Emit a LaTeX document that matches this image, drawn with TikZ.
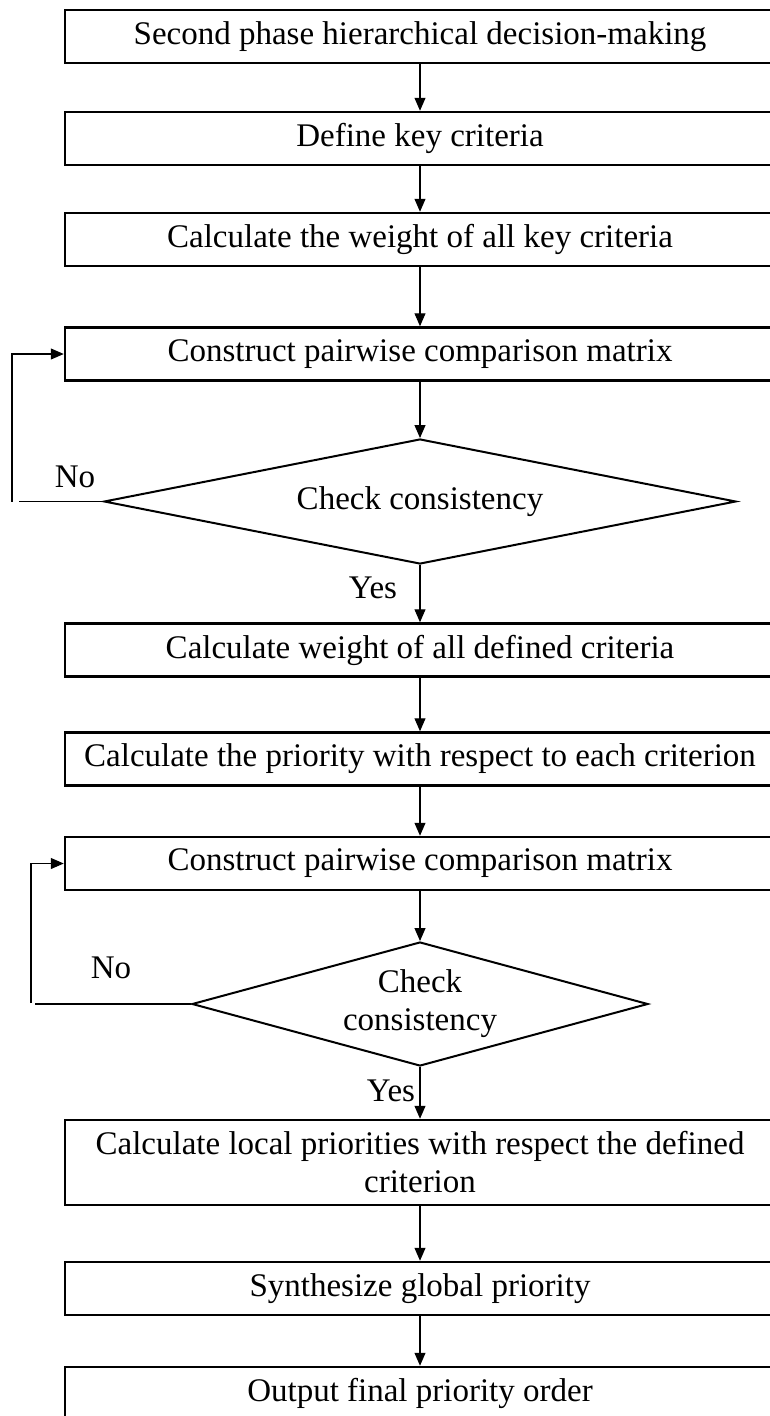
\documentclass[tikz,border=0pt]{standalone}
\usepackage{fontspec}
\setmainfont{Liberation Serif}
\usetikzlibrary{arrows.meta,shapes.geometric}

\begin{document}
\begin{tikzpicture}[x=1pt,y=-1pt,>={Triangle[length=13pt,width=11pt]},
  font=\fontsize{33}{38}\selectfont,
  stepbox/.style={draw,line width=2.5pt,minimum width=710pt,minimum height=53pt,inner sep=0pt,align=center},
  check/.style={draw,diamond,line width=2pt,inner sep=0pt,align=center},
  flow/.style={->,line width=1.1pt},
  back/.style={line width=1.1pt}]
  \useasboundingbox (0,0) rectangle (769,1416);

  % --- criteria weights ---
  \node[stepbox] (start)   at (420,36.5)  {Second phase hierarchical decision-making};
  \node[stepbox] (keycrit) at (420,138.5) {Define key criteria};
  \node[stepbox] (wkey)    at (420,239.5) {Calculate the weight of all key criteria};
  \node[stepbox] (pwc1)    at (420,354)   {Construct pairwise comparison matrix};
  \node[check,minimum width=632pt,minimum height=125pt,aspect=5]
        (chk1) at (420,501.5) {Check consistency};
  \node[stepbox] (wdef)    at (420,650)   {Calculate weight of all defined criteria};

  % --- priorities of the alternatives ---
  \node[stepbox] (prio)    at (420,759)   {Calculate the priority with respect to each criterion};
  \node[stepbox] (pwc2)    at (420,863.5) {Construct pairwise comparison matrix};
  \node[check,minimum width=456pt,minimum height=124pt,aspect=3.7]
        (chk2) at (420,1004) {Check\\consistency};
  \node[stepbox,minimum height=85pt] (local) at (420,1162.5)
        {Calculate local priorities with respect the defined\\criterion};
  \node[stepbox] (global)  at (420,1288.5) {Synthesize global priority};
  \node[stepbox] (final)   at (420,1393.5) {Output final priority order};

  % --- labels of the decisions ---
  \node (no1)  at (75,477)   {No};
  \node (yes1) at (373,588)  {Yes};
  \node (no2)  at (111,968)  {No};
  \node (yes2) at (391,1091) {Yes};

  % --- main flow ---
  \draw[flow] (start) -- (keycrit);
  \draw[flow] (keycrit) -- (wkey);
  \draw[flow] (wkey) -- (pwc1);
  \draw[flow] (pwc1) -- (chk1);
  \draw[flow] (chk1) -- (wdef);
  \draw[flow] (wdef) -- (prio);
  \draw[flow] (prio) -- (pwc2);
  \draw[flow] (pwc2) -- (chk2);
  \draw[flow] (chk2) -- (local);
  \draw[flow] (local) -- (global);
  \draw[flow] (global) -- (final);

  % --- feedback when inconsistent ---
  \coordinate (ret1) at (12,501.5);
  \coordinate (ret2) at (31,1003);
  \draw[back] (chk1.west) -- ++(-84,0);
  \draw[flow] (ret1) |- (pwc1.west);
  \draw[back] (chk2.west) -- ++(-156,0);
  \draw[flow] (ret2) |- (pwc2.west);
\end{tikzpicture}
\end{document}
